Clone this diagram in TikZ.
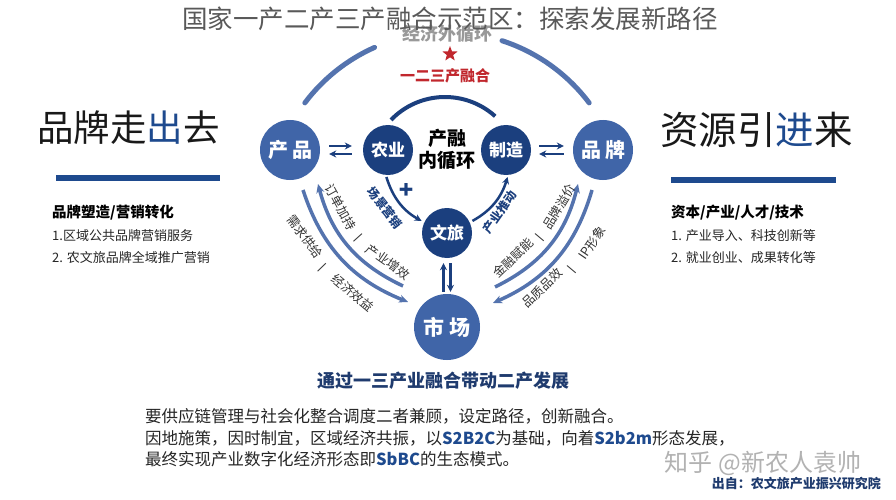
\documentclass[tikz,border=0pt]{standalone}
\usepackage{fontspec}
\setmainfont{Noto Sans CJK SC}
\usetikzlibrary{arrows.meta,shapes.geometric}

\definecolor{navy}{HTML}{1B3F7E}
\definecolor{ballblue}{HTML}{4065A8}
\definecolor{arcblue}{HTML}{5473AE}
\definecolor{barblue}{HTML}{1E4A8E}
\definecolor{redC}{HTML}{C1272D}
\definecolor{headnavy}{HTML}{1F3B6E}

\tikzset{
  outerball/.style={circle,fill=ballblue,text=white,inner sep=0pt,minimum size=60pt,
    font=\bfseries\fontsize{20}{20}\selectfont},
  innerball/.style={circle,fill=navy,text=white,inner sep=0pt,minimum size=50pt,
    font=\bfseries\fontsize{17}{17}\selectfont},
  flow/.style={-{Stealth[length=7pt,width=7pt]},line width=2.5pt,draw=navy},
  bigloop/.style={line width=5pt,draw=arcblue,line cap=round},
  sidearc/.style={-{Stealth[length=9pt,width=8pt]},line width=3.5pt,draw=arcblue},
  arclabel/.style={font=\fontsize{12.5}{12.5}\selectfont,text=black!80,inner sep=0pt},
  steplabel/.style={font=\bfseries\fontsize{12}{12}\selectfont,text=navy,inner sep=0pt},
  listtext/.style={anchor=west,font=\fontsize{13}{13}\selectfont,text=black!85,inner sep=0pt},
  listhead/.style={anchor=west,font=\bfseries\fontsize{14.5}{14.5}\selectfont,text=black,inner sep=0pt},
}

\begin{document}
\begin{tikzpicture}[x=1pt,y=-1pt]
\useasboundingbox (0,0) rectangle (896,500);
\fill[white] (0,0) rectangle (896,500);

% outer loop and its labels
\draw[bigloop] (447,210) ++(-143:178) arc[start angle=-143,end angle=-114,radius=178];
\draw[bigloop] (447,210) ++(-72:178) arc[start angle=-72,end angle=-37,radius=178];
\node[font=\bfseries\fontsize{18}{18}\selectfont,text=black!40] (outer) at (447,34) {经济外循环};
\node[star,star points=5,star point ratio=2.4,fill=redC,inner sep=0pt,minimum size=16pt] (star) at (450,54) {};
\node[font=\bfseries\fontsize{15}{15}\selectfont,text=redC] (fuse) at (445,76) {一二三产融合};
\node[font=\fontsize{25.5}{25.5}\selectfont,text=black!65] (title) at (450,19) {国家一产二产三产融合示范区：探索发展新路径};

% inner loop
\draw[line width=4pt,draw=navy] (445,172) ++(-136:75) arc[start angle=-136,end angle=-48,radius=75];

% balls
\node[outerball] (cp) at (290,150) {产\hspace{4pt}品};
\node[outerball] (pp) at (603,150) {品\hspace{4pt}牌};
\node[innerball] (ny) at (388,150) {农业};
\node[innerball] (zz) at (506,150) {制造};
\node[innerball] (wl) at (447,233) {文旅};
\node[outerball,minimum size=66pt,font=\bfseries\fontsize{21}{21}\selectfont] (sc) at (447,327) {市\hspace{5pt}场};
\node[align=center,font=\bfseries\fontsize{19}{22}\selectfont] (core) at (447,149) {产融\\内循环};

% short arrows
\draw[flow,shorten <=9pt,shorten >=11pt] ([yshift=4pt]cp.east) -- ([yshift=4pt]ny.west);
\draw[flow,shorten <=11pt,shorten >=9pt] ([yshift=-4pt]ny.west) -- ([yshift=-4pt]cp.east);
\draw[flow,shorten <=8pt,shorten >=9pt] ([yshift=4pt]zz.east) -- ([yshift=4pt]pp.west);
\draw[flow,shorten <=9pt,shorten >=8pt] ([yshift=-4pt]pp.west) -- ([yshift=-4pt]zz.east);
\draw[flow,shorten <=2pt,shorten >=5pt] ([xshift=-3.5pt]sc.north) -- ([xshift=-3.5pt]wl.south);
\draw[flow,shorten <=5pt,shorten >=2pt] ([xshift=3.5pt]wl.south) -- ([xshift=3.5pt]sc.north);

% curved arrows of the inner loop
\draw[flow,shorten <=2pt,shorten >=3pt] (ny.265) to[bend right=22] (wl.155);
\draw[flow,shorten <=3pt,shorten >=2pt] (wl.25) to[bend right=22] (zz.275);
\node[steplabel,rotate=-52] (scene) at (385,208) {场景营销};
\node[font=\bfseries\fontsize{15}{15}\selectfont,text=navy] (plus) at (406,190) {✚};
\node[steplabel,rotate=55] (push) at (500,212) {产业推动};

% side arcs
\coordinate (lo1) at (303,190);
\coordinate (lo2) at (408,302);
\coordinate (li1) at (403,286);
\coordinate (li2) at (318,184);
\coordinate (ro1) at (592,190);
\coordinate (ro2) at (493,303);
\coordinate (ri1) at (495,287);
\coordinate (ri2) at (578,184);
\draw[sidearc] (lo1) to[bend right=25] (lo2);
\draw[sidearc] (li1) to[bend left=25] (li2);
\draw[sidearc] (ro1) to[bend left=25] (ro2);
\draw[sidearc] (ri1) to[bend right=25] (ri2);

\node[arclabel,rotate=-61] (order) at (341,207) {订单加持};
\node[arclabel,rotate=-48] (sepa) at (358,238) {丨};
\node[arclabel,rotate=-35] (gain) at (388,262) {产业增效};
\node[arclabel,rotate=-53] (need) at (305,237) {需求供给};
\node[arclabel,rotate=-46] (sepb) at (322,268) {丨};
\node[arclabel,rotate=-40] (econ) at (353,293) {经济效益};
\node[arclabel,rotate=59] (prem) at (559,207) {品牌溢价};
\node[arclabel,rotate=50] (sepc) at (540,238) {丨};
\node[arclabel,rotate=44] (fin) at (513,258) {金融赋能};
\node[arclabel,rotate=56] (ip) at (592,243) {IP形象};
\node[arclabel,rotate=50] (sepd) at (572,270) {丨};
\node[arclabel,rotate=44] (qual) at (542,288) {品质品效};

% left panel
\node[anchor=west,inner sep=0pt,font=\fontsize{36.5}{36.5}\selectfont,text=black!90] (goout) at (37,128) {品牌走\textcolor{barblue}{出}去};
\draw[line width=6pt,barblue] (56,178) -- (220,178);
\node[listhead] (lhead) at (52,213) {品牌塑造/营销转化};
\node[listtext] (lone) at (52,236) {1.区域公共品牌营销服务};
\node[listtext] (ltwo) at (52,258) {2. 农文旅品牌全域推广营销};

% right panel
\node[anchor=west,inner sep=0pt,font=\fontsize{38.5}{38.5}\selectfont,text=black!90] (comein) at (660,130) {资源引\textcolor{barblue}{进}来};
\draw[line width=6pt,barblue] (671,180) -- (836,180);
\node[listhead] (rhead) at (671,213) {资本/产业/人才/技术};
\node[listtext] (rone) at (671,236) {1. 产业导入、科技创新等};
\node[listtext] (rtwo) at (671,258) {2. 就业创业、成果转化等};

% bottom
\node[font=\bfseries\fontsize{18}{18}\selectfont,text=headnavy] (motto) at (443,381) {通过一三产业融合带动二产发展};
\node[anchor=west,align=left,inner sep=0pt,font=\fontsize{16.5}{21.5}\selectfont,text=black!85] (para) at (145,438)
  {要供应链管理与社会化整合调度二者兼顾，设定路径，创新融合。\\
   因地施策，因时制宜，区域经济共振，以\textcolor{barblue}{\bfseries S2B2C}为基础，向着\textcolor{barblue}{\bfseries S2b2m}形态发展，\\
   最终实现产业数字化经济形态即\textcolor{barblue}{\bfseries SbBC}的生态模式。};
\node[font=\fontsize{24}{24}\selectfont,text=black!30] (mark) at (763,463) {知乎 @新农人袁帅};
\node[anchor=east,inner sep=0pt,font=\bfseries\fontsize{13}{13}\selectfont,text=headnavy] (source) at (881,484) {出自：农文旅产业振兴研究院};

\end{tikzpicture}
\end{document}
